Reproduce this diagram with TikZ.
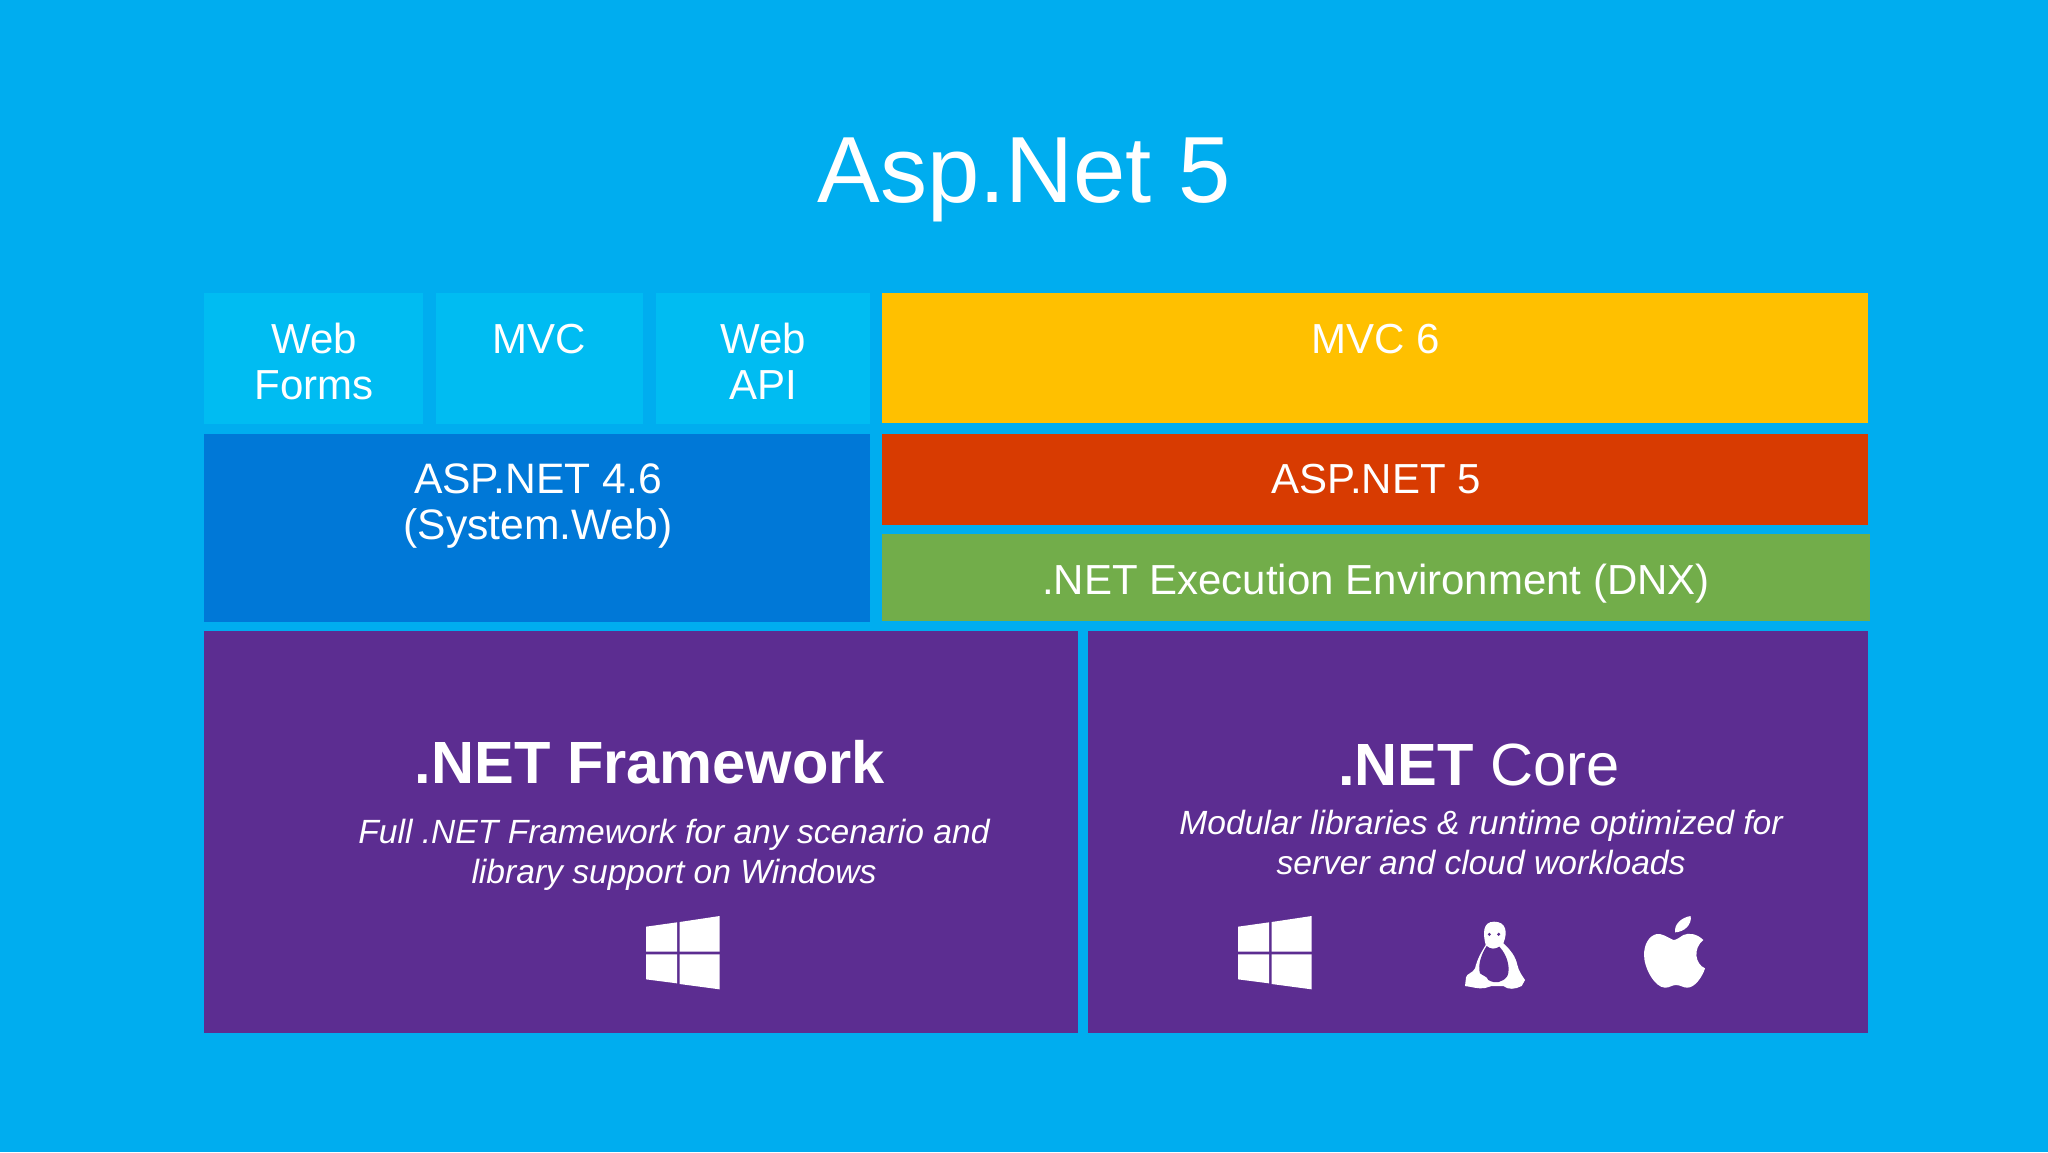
\documentclass[tikz,border=0pt]{standalone}
\usepackage{fontspec}
\setmainfont{Liberation Sans}
\definecolor{bgblue}{HTML}{00ADEF}
\definecolor{ltblue}{HTML}{00BCF2}
\definecolor{dkblue}{HTML}{0078D7}
\definecolor{amber}{HTML}{FFC000}
\definecolor{brick}{HTML}{D83B01}
\definecolor{leaf}{HTML}{72AD4A}
\definecolor{violet2}{HTML}{5C2D91}
\newcommand{\pxfont}[2]{\fontsize{#1}{#2}\selectfont}
\tikzset{
  block/.style={rectangle,inner sep=0pt,outer sep=0pt,draw=none,fill=#1},
  lab/.style={text=white,anchor=base,inner sep=0pt,outer sep=0pt,align=center},
  tile/.style={lab,font=\pxfont{21}{22.9}},
  subt/.style={lab,font=\pxfont{16.8}{20}\itshape},
  head/.style={lab,font=\pxfont{29.8}{36}},
  winlogo/.pic={
    \fill[white] (54,110)--(147,97)--(147,185)--(54,185)--cycle;
    \fill[white] (54,193)--(147,193)--(147,280)--(54,268)--cycle;
    \fill[white] (155,96)--(275,78)--(275,185)--(155,185)--cycle;
    \fill[white] (155,193)--(275,193)--(275,298)--(155,282)--cycle;
  }
}
\newcommand{\blockbox}[6]{%
  \node[block=#6,minimum width={(#4-#2)*0.5pt},minimum height={(#5-#3)*0.5pt}]
    (#1) at ({(#2+#4)/2},{(#3+#5)/2}) {};}
\begin{document}
\begin{tikzpicture}[x=0.5pt,y=-0.5pt]
\useasboundingbox (0,0) rectangle (2048,1152);
\fill[bgblue] (0,0) rectangle (2048,1152);
\node[lab,font=\pxfont{47}{52}] (title) at (1024,202) {Asp.Net 5};

\blockbox{webforms}{204}{293}{423}{424}{ltblue}
\blockbox{mvc}{436}{293}{643}{424}{ltblue}
\blockbox{webapi}{656}{293}{870}{424}{ltblue}
\blockbox{mvcsix}{882}{293}{1868}{423}{amber}
\blockbox{aspold}{204}{434}{870}{622}{dkblue}
\blockbox{aspnew}{882}{434}{1868}{525}{brick}
\blockbox{dnx}{882}{534}{1870}{621}{leaf}
\blockbox{fw}{204}{631}{1078}{1033}{violet2}
\blockbox{core}{1088}{631}{1868}{1033}{violet2}

\node[tile] (twebforms) at (314,399) {Web\\Forms};
\node[tile] (tmvc) at (539,353) {MVC};
\node[tile] (twebapi) at (763,399) {Web\\API};
\node[tile] (tmvcsix) at (1376,353) {MVC 6};
\node[tile,font=\pxfont{21.3}{22.9}] (taspold) at (538,539) {ASP.NET 4.6\\(System.Web)};
\node[tile] (taspnew) at (1376,493) {ASP.NET 5};
\node[tile] (tdnx) at (1376,594) {.NET Execution Environment (DNX)};

\node[head] (tfw) at (650,783) {\bfseries .NET Framework};
\node[subt] (sfw) at (674,883) {Full .NET Framework for any scenario and\\library support on Windows};
\node[head] (tcore) at (1479,785) {\bfseries .NET\mdseries{} Core};
\node[subt] (score) at (1481,874) {Modular libraries \& runtime optimized for\\server and cloud workloads};

% Windows logos
\begin{scope}[shift={(628,890)},x=0.16667pt,y=-0.16667pt]
  \pic {winlogo};
\end{scope}
\begin{scope}[shift={(1220,890)},x=0.16667pt,y=-0.16667pt]
  \pic {winlogo};
  % penguin
  \fill[white] (822,95) .. controls (788,95) and (788,130) .. (797,165)
    .. controls (785,185) and (772,205) .. (765,235)
    .. controls (758,250) and (740,250) .. (738,262)
    -- (735,288) .. controls (755,290) and (775,298) .. (795,294)
    -- (815,288) -- (850,288) .. controls (865,300) and (885,298) .. (905,288)
    -- (915,270) .. controls (905,255) and (897,245) .. (892,225)
    .. controls (887,200) and (872,180) .. (850,160)
    .. controls (864,125) and (858,95) .. (822,95) -- cycle;
  \fill[violet2] (800,168) .. controls (785,190) and (772,225) .. (780,250)
    .. controls (790,258) and (800,258) .. (805,270)
    .. controls (825,282) and (848,278) .. (862,258)
    .. controls (872,235) and (862,195) .. (838,170)
    .. controls (826,178) and (810,178) .. (800,168) -- cycle;
  \fill[violet2] (808,133) circle[radius=5];
  \fill[violet2] (836,133) circle[radius=5];
  % apple
  \fill[white] (1365,127) .. controls (1362,102) and (1385,82) .. (1412,78)
    .. controls (1416,105) and (1392,126) .. (1365,127) -- cycle;
  \fill[white] (1360,150) .. controls (1340,140) and (1325,130) .. (1310,132)
    .. controls (1285,138) and (1272,165) .. (1272,195)
    .. controls (1272,235) and (1305,293) .. (1335,293)
    .. controls (1350,293) and (1355,285) .. (1368,285)
    .. controls (1382,285) and (1388,293) .. (1402,293)
    .. controls (1425,293) and (1447,260) .. (1455,235)
    .. controls (1425,222) and (1418,175) .. (1450,150)
    .. controls (1430,130) and (1405,128) .. (1390,135)
    .. controls (1378,142) and (1370,150) .. (1360,150) -- cycle;
\end{scope}
\end{tikzpicture}
\end{document}
